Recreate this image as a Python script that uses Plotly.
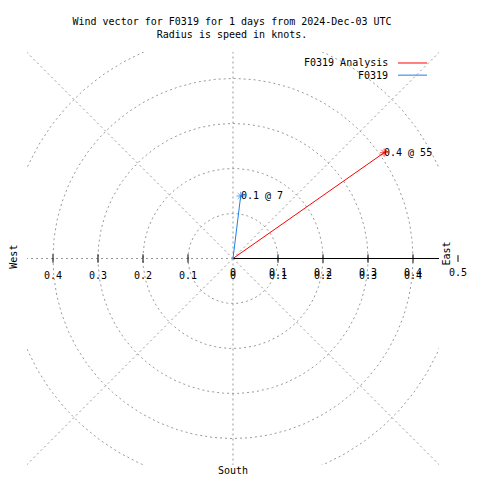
import numpy as np
import plotly.graph_objects as go

# ---- data ----
series_names = ["F0319 Analysis", "F0319"]
series_speed = [0.41, 0.14]          # knots (radius)
series_dir = [55, 7]                 # degrees, compass (clockwise from north)
series_colors = ["#ff0000", "#1e7fe6"]

ring_radii = [0.1, 0.2, 0.3, 0.4, 0.5]
spoke_angles = [0, 45, 90, 135, 180, 225, 270, 315]
tick_vals_x = [-0.4, -0.3, -0.2, -0.1, 0, 0.1, 0.2, 0.3, 0.4]
tick_vals_r = [0, 0.1, 0.2, 0.3, 0.4, 0.5]
compass_labels = ["East", "West", "South"]
compass_pos = [(0.4756, 0.011), (-0.4867, 0.004), (0.0, -0.471)]
compass_angle = [-90, -90, 0]

title_text = "Wind vector for F0319 for 1 days from 2024-Dec-03 UTC<br>Radius is speed in knots."

FONT = "DejaVu Sans Mono"
GRID = "#999999"
X0, X1 = -206 / 450.0, 206 / 450.0
Y0, Y1 = -206.5 / 450.0, 206.5 / 450.0


def px_(v):
    return (v - X0) / (X1 - X0)


def py_(v):
    return (v - Y0) / (Y1 - Y0)


fig = go.Figure()

# grid rings
theta = np.linspace(0, 2 * np.pi, 361)
for r in ring_radii:
    fig.add_trace(go.Scatter(x=r * np.cos(theta), y=r * np.sin(theta), mode="lines",
                             line=dict(color=GRID, width=1, dash="2px,3px"),
                             hoverinfo="skip", showlegend=False))
# spokes
for a in spoke_angles:
    rad = np.deg2rad(a)
    fig.add_trace(go.Scatter(x=[0, 0.8 * np.cos(rad)], y=[0, 0.8 * np.sin(rad)], mode="lines",
                             line=dict(color=GRID, width=1, dash="2px,3px"),
                             hoverinfo="skip", showlegend=False))

# solid radial axis (east)
fig.add_trace(go.Scatter(x=[0, 0.8], y=[0, 0], mode="lines",
                         line=dict(color="black", width=1), hoverinfo="skip", showlegend=False))

# tick marks (inside the plot)
tick_x = [v for v in tick_vals_x if v != 0]
fig.add_trace(go.Scatter(x=tick_x, y=[0] * len(tick_x), mode="markers",
                         marker=dict(symbol="line-ns", size=6, line=dict(color="black", width=1)),
                         cliponaxis=False, hoverinfo="skip", showlegend=False))

# tick labels (x tics, mirrored as absolute values)
fig.add_trace(go.Scatter(x=tick_vals_x, y=[-0.04] * len(tick_vals_x), mode="text",
                         text=[("%g" % abs(v)) for v in tick_vals_x],
                         textfont=dict(family=FONT, size=10, color="black"),
                         cliponaxis=False, hoverinfo="skip", showlegend=False))

annotations = []
shapes = []
# r tics labels (some lie outside the range -> paper coordinates from data)
for v in tick_vals_r:
    annotations.append(dict(x=px_(v), y=py_(-0.031), xref="paper", yref="paper",
                            text="%g" % v, showarrow=False, xanchor="center", yanchor="middle",
                            font=dict(family=FONT, size=10, color="black")))
    if v > X1:
        shapes.append(dict(type="line", xref="paper", yref="paper",
                           x0=px_(v), x1=px_(v), y0=py_(-0.0075), y1=py_(0.0075),
                           line=dict(color="black", width=1)))

# vectors
for name, s, d, c in zip(series_names, series_speed, series_dir, series_colors):
    rad = np.deg2rad(d)
    ex, ey = s * np.sin(rad), s * np.cos(rad)
    fig.add_trace(go.Scatter(x=[0, ex], y=[0, ey], mode="lines+markers", name=name,
                             line=dict(color=c, width=1),
                             marker=dict(symbol="asterisk-open", size=[0, 7],
                                         line=dict(color=c, width=1)),
                             showlegend=False))
    annotations.append(dict(x=ex, y=ey, xref="x", yref="y", text="%.1f @ %d" % (s, d),
                            showarrow=False, xanchor="left", yanchor="middle", xshift=-2,
                            font=dict(family=FONT, size=10, color="black")))

for lab, (cx, cy), ang in zip(compass_labels, compass_pos, compass_angle):
    annotations.append(dict(x=px_(cx), y=py_(cy), xref="paper", yref="paper", text=lab,
                            showarrow=False, textangle=ang, xanchor="center", yanchor="middle",
                            font=dict(family=FONT, size=10, color="black")))

# manual legend (text left of sample line)
leg_y = [0.9734, 0.944]
for name, c, ly in zip(series_names, series_colors, leg_y):
    annotations.append(dict(x=0.881, y=ly, xref="paper", yref="paper", text=name,
                            showarrow=False, xanchor="right", yanchor="middle",
                            font=dict(family=FONT, size=10, color="black")))
    shapes.append(dict(type="line", xref="paper", yref="paper", x0=0.9005, x1=0.9709,
                       y0=ly, y1=ly, line=dict(color=c, width=1)))

# page body has an 8px default margin: offset the plot area accordingly
fig.update_layout(
    width=480, height=480,
    margin=dict(l=19, r=49, t=44, b=23),
    paper_bgcolor="white", plot_bgcolor="white",
    title=dict(text=title_text, x=0.4667, xanchor="center", y=0.965, yanchor="top",
               yref="container", font=dict(family=FONT, size=10, color="black")),
    xaxis=dict(range=[X0, X1], visible=False, fixedrange=True),
    yaxis=dict(range=[Y0, Y1], visible=False, fixedrange=True),
    annotations=annotations, shapes=shapes,
    showlegend=False,
)

fig.write_html("out.html")
